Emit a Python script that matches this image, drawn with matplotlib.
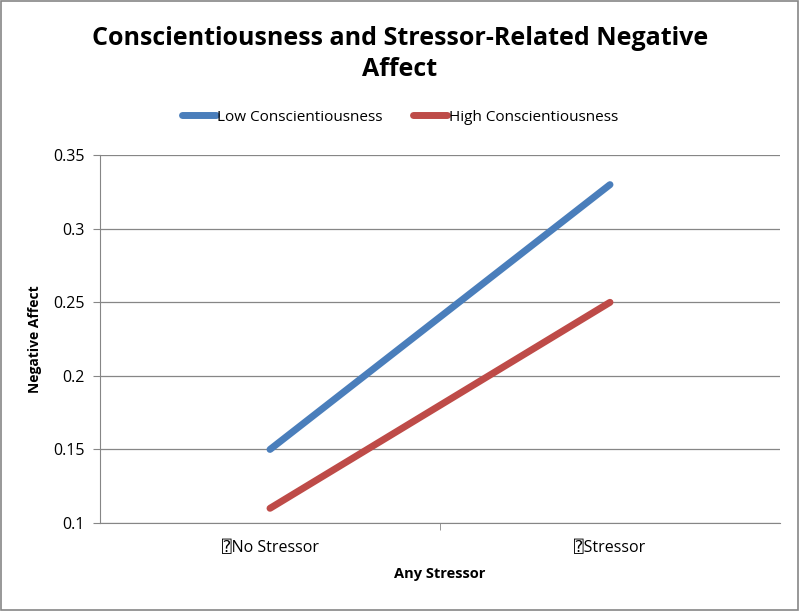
import matplotlib
matplotlib.use("Agg")
import matplotlib.pyplot as plt
from matplotlib.ticker import FixedLocator

plt.rcParams['font.family'] = ['Open Sans', 'DejaVu Sans', 'DejaVu Sans Mono']

categories = ["\u2370No Stressor", "\u2370Stressor"]
low_consc = [0.15, 0.33]
high_consc = [0.11, 0.25]
yticks = [0.1, 0.15, 0.2, 0.25, 0.3, 0.35]
ytick_labels = ["0.1", "0.15", "0.2", "0.25", "0.3", "0.35"]

fig = plt.figure(figsize=(8, 6.11), dpi=100)
ax = fig.add_axes([0.125, 0.144, 0.85, 0.602])

x = list(range(len(categories)))
ax.plot(x, low_consc, color="#4A7EBB", lw=5, solid_capstyle="round", label="Low Conscientiousness")
ax.plot(x, high_consc, color="#BE4B48", lw=5, solid_capstyle="round", label="High Conscientiousness")

ax.set_xlim(-0.5, 1.5)
ax.set_ylim(0.1, 0.35)
ax.set_yticks(yticks)
ax.set_yticklabels(ytick_labels)
ax.set_xticks(x)
ax.set_xticklabels(categories)
ax.xaxis.set_minor_locator(FixedLocator([0.5]))
ax.tick_params(axis='x', which='major', length=0, pad=12, labelsize=11.5)
ax.tick_params(axis='x', which='minor', length=5, color="#868686")
ax.tick_params(axis='y', length=5, color="#868686", labelsize=11.5, pad=6)
for s in ["top", "right"]:
    ax.spines[s].set_visible(False)
for s in ["left", "bottom"]:
    ax.spines[s].set_color("#868686")
ax.grid(axis='y', color="#868686", lw=0.9)
ax.set_axisbelow(True)

ax.set_ylabel("Negative Affect", fontsize=10, fontweight="bold", labelpad=8)
ax.set_xlabel("Any Stressor", fontsize=10.5, fontweight="bold", labelpad=8)

fig.text(0.5, 0.912, "Conscientiousness and Stressor-Related Negative\nAffect",
         ha="center", va="center", fontsize=18, fontweight="bold", linespacing=1.3)

fig.legend(loc="center", bbox_to_anchor=(0.5, 0.808), ncol=2, frameon=False,
           fontsize=11, handlelength=2.2, handletextpad=0.1, columnspacing=2.0)

fig.patches.append(plt.Rectangle((0.001, 0.001), 0.997, 0.997, transform=fig.transFigure,
                                 fill=False, edgecolor="#868686", lw=1.2))
fig.savefig("out.png", dpi=100)
